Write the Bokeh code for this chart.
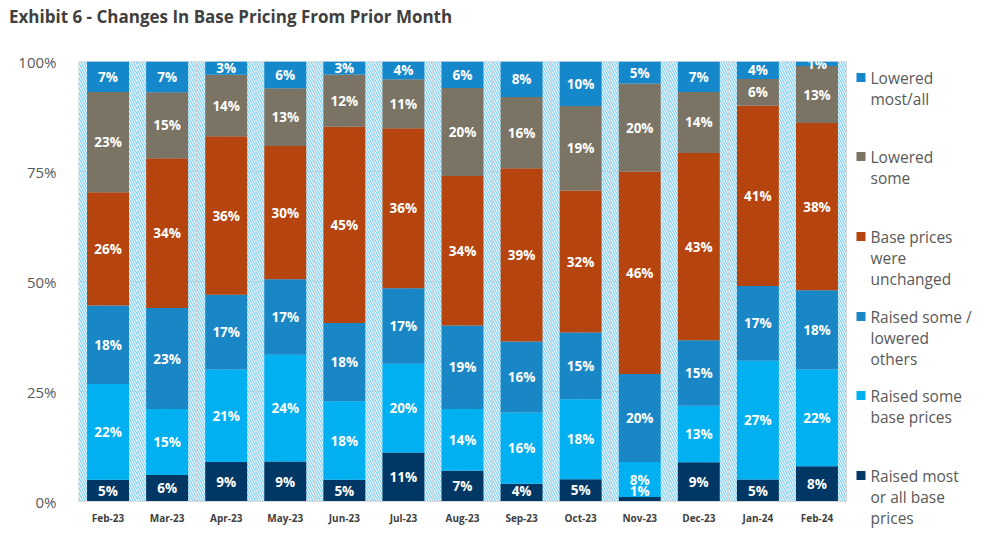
from bokeh.plotting import figure
from bokeh.models import Range1d, FixedTicker, Div
from bokeh.layouts import column
from bokeh.core.properties import value
from bokeh.embed import file_html
from bokeh.resources import INLINE

# ---------------- data ----------------
months = ["Feb-23", "Mar-23", "Apr-23", "May-23", "Jun-23", "Jul-23", "Aug-23",
          "Sep-23", "Oct-23", "Nov-23", "Dec-23", "Jan-24", "Feb-24"]
raised_most_all = [5, 6, 9, 9, 5, 11, 7, 4, 5, 1, 9, 5, 8]
raised_some = [22, 15, 21, 24, 18, 20, 14, 16, 18, 8, 13, 27, 22]
raised_some_lowered_others = [18, 23, 17, 17, 18, 17, 19, 16, 15, 20, 15, 17, 18]
unchanged = [26, 34, 36, 30, 45, 36, 34, 39, 32, 46, 43, 41, 38]
lowered_some = [23, 15, 14, 13, 12, 11, 20, 16, 19, 20, 14, 6, 13]
lowered_most_all = [7, 7, 3, 6, 3, 4, 6, 8, 10, 5, 7, 4, 1]

series = [raised_most_all, raised_some, raised_some_lowered_others,
          unchanged, lowered_some, lowered_most_all]
series_colors = ["#003764", "#00B0F0", "#1986C6", "#B5440E", "#7B7363", "#1488CB"]
legend_lines = [
    ["Lowered", "most/all"],
    ["Lowered", "some"],
    ["Base prices", "were", "unchanged"],
    ["Raised some /", "lowered", "others"],
    ["Raised some", "base prices"],
    ["Raised most", "or all base", "prices"],
]
legend_colors = ["#1488CB", "#7B7363", "#B5440E", "#1986C6", "#00B0F0", "#003764"]
y_ticks = [0, 25, 50, 75, 100]
y_tick_labels = ["0%", "25%", "50%", "75%", "100%"]

FONT = "Open Sans"

# ---------------- layout constants (pixels) ----------------
FRAME_LEFT, PLOT_RIGHT = 78, 846      # page x of category area
FRAME_TOP, ZERO_Y = 61, 501           # page y of 100% and 0%
FIG_TOP, FIG_W, FIG_H = 34, 990, 514
BORDER_BOTTOM = 18
n = len(months)
px_per_cat = (PLOT_RIGHT - FRAME_LEFT) / n
px_per_pct = (ZERO_Y - FRAME_TOP) / 100.0
frame_bottom = FIG_TOP + FIG_H - BORDER_BOTTOM
x_end = n - 0.5 + (FIG_W - PLOT_RIGHT) / px_per_cat
y_start = -(frame_bottom - ZERO_Y) / px_per_pct


def px_x(page_x):
    return -0.5 + (page_x - FRAME_LEFT) / px_per_cat


def px_y(page_y):
    return (ZERO_Y - page_y) / px_per_pct


xs = list(range(n))

p = figure(x_range=Range1d(-0.5, x_end), y_range=Range1d(y_start, 100),
           width=FIG_W, height=FIG_H, output_backend="svg", toolbar_location=None,
           x_axis_location=None, min_border_left=FRAME_LEFT, min_border_right=0,
           min_border_top=FRAME_TOP - FIG_TOP, min_border_bottom=BORDER_BOTTOM)
p.outline_line_color = None
p.xgrid.visible = False
p.ygrid.visible = False

# horizontal gridlines over the category area only
p.segment(x0=[-0.5] * len(y_ticks), x1=[n - 0.5] * len(y_ticks),
          y0=y_ticks, y1=y_ticks, line_color="#D9D9D9", line_width=1)

# hatched background bands
p.vbar(x=xs, top=[100] * n, bottom=0, width=1.0,
       fill_alpha=0, hatch_pattern="\\", hatch_color="#8AD3F4",
       hatch_scale=5, hatch_weight=1.4, line_color="#D6D6D6", line_width=1)

totals = [sum(s[i] for s in series) for i in range(n)]
bottoms = [0.0] * n
lx, ly, lt = [], [], []
for vals, col in zip(series, series_colors):
    tops = [b + v * 100.0 / t for b, v, t in zip(bottoms, vals, totals)]
    p.vbar(x=xs, bottom=bottoms, top=tops, width=0.71,
           fill_color=col, line_color=None)
    for i, b, tp, v in zip(xs, bottoms, tops, vals):
        lx.append(i)
        ly.append(max((b + tp) / 2.0, 2.4))
        lt.append(f"{v}%")
    bottoms = tops

p.text(x=lx, y=ly, text=lt, text_align="center", text_baseline="middle",
       text_color="white", text_font=value(FONT), text_font_style="bold",
       text_font_size="13.5px")

# x axis line and category labels
p.segment(x0=[-0.5], x1=[n - 0.5], y0=[0], y1=[0], line_color="#D9D9D9", line_width=1)
p.text(x=xs, y=[px_y(517)] * n, text=months, text_align="center",
       text_baseline="middle", text_color="#404040", text_font=value(FONT),
       text_font_style="bold", text_font_size="10px")

# y axis
p.yaxis.ticker = FixedTicker(ticks=y_ticks)
p.yaxis.major_label_overrides = {t: l for t, l in zip(y_ticks, y_tick_labels)}
p.yaxis.axis_line_color = None
p.yaxis.major_tick_line_color = None
p.yaxis.minor_tick_line_color = None
p.yaxis.major_label_standoff = 16
p.yaxis.major_label_text_font = FONT
p.yaxis.major_label_text_font_size = "15px"
p.yaxis.major_label_text_color = "#595959"

# legend
first_line_y = [77, 156, 236, 316, 395, 475]
line_gap = 21.3
mx, my, mc = [], [], []
tx, ty, tt = [], [], []
for lines, c, y0 in zip(legend_lines, legend_colors, first_line_y):
    mx.append(px_x(860.5))
    my.append(px_y(y0))
    mc.append(c)
    for k, s in enumerate(lines):
        tx.append(px_x(870))
        ty.append(px_y(y0 + k * line_gap))
        tt.append(s)
p.scatter(x=mx, y=my, marker="square", size=9, fill_color=mc, line_color=None)
p.text(x=tx, y=ty, text=tt, text_align="left", text_baseline="middle",
       text_color="#595959", text_font=value(FONT), text_font_size="15.5px")

# ---------------- title ----------------
title = Div(text="Exhibit 6 - Changes In Base Pricing From Prior Month",
            width=FIG_W, height=FIG_TOP, margin=0,
            styles={"font-family": "Open Sans", "font-weight": "bold",
                    "font-size": "17px", "color": "#404040",
                    "line-height": "20px", "padding-top": "7px",
                    "padding-left": "9px"})

layout = column(title, p, spacing=0)

open("out.html", "w").write(file_html(layout, INLINE))
